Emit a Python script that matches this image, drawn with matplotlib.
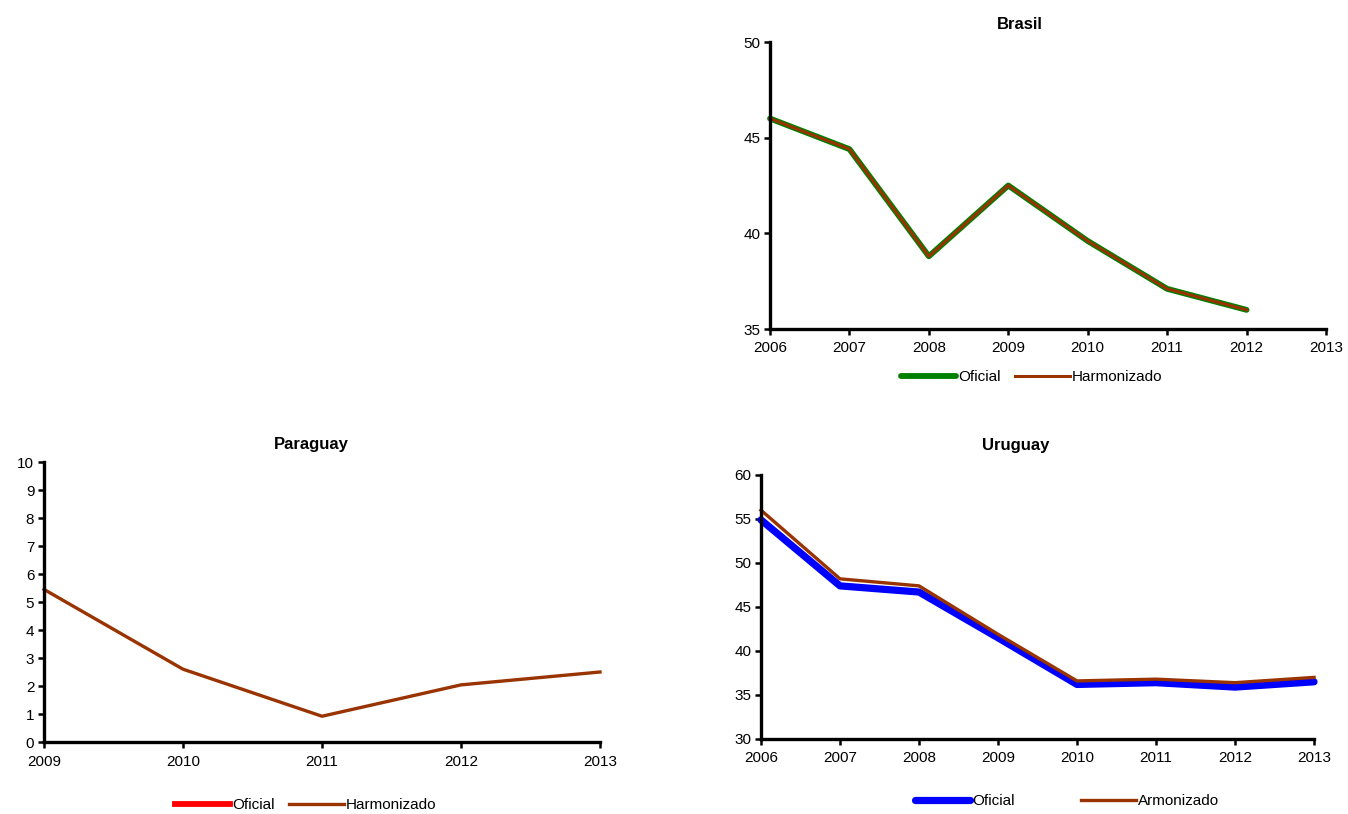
import matplotlib
matplotlib.use("Agg")
import matplotlib.pyplot as plt
import numpy as np

plt.rcParams['font.family'] = ['Liberation Sans', 'DejaVu Sans']
plt.rcParams['font.size'] = 11

# Brasil
brasil_years = [2006, 2007, 2008, 2009, 2010, 2011, 2012]
brasil_oficial = [46.0, 44.4, 38.8, 42.5, 39.6, 37.1, 36.0]
brasil_harmonizado = [46.0, 44.4, 38.8, 42.5, 39.6, 37.1, 36.0]

# Paraguay
paraguay_years = [2009, 2010, 2011, 2012, 2013]
paraguay_oficial = []
paraguay_harmonizado = [5.45, 2.6, 0.92, 2.04, 2.5]

# Uruguay
uruguay_years = [2006, 2007, 2008, 2009, 2010, 2011, 2012, 2013]
uruguay_oficial = [54.9, 47.4, 46.7, 41.5, 36.2, 36.4, 35.9, 36.5]
uruguay_armonizado = [56.0, 48.2, 47.4, 41.9, 36.6, 36.8, 36.4, 37.0]

W, H = 1348, 814
fig = plt.figure(figsize=(W / 100, H / 100), dpi=100)


def make_axes(left, top, right, bottom):
    return fig.add_axes([left / W, 1 - bottom / H, (right - left) / W, (bottom - top) / H])


def style(ax, xlim, ylim, yticks, title, title_x, title_y):
    ax.set_xlim(*xlim)
    ax.set_ylim(*ylim)
    ax.set_xticks(range(xlim[0], xlim[1] + 1))
    ax.set_yticks(yticks)
    for s in ('top', 'right'):
        ax.spines[s].set_visible(False)
    for s in ('left', 'bottom'):
        ax.spines[s].set_linewidth(2.4)
        ax.spines[s].set_color('black')
    ax.tick_params(direction='out', length=4, width=1.8, labelsize=11, pad=3)
    ax.tick_params(axis='x', pad=5)
    ax.set_title(title, fontsize=12, fontweight='bold', x=title_x, y=title_y)


def legend(ax, x, y, spacing):
    return ax.legend(loc='center', bbox_to_anchor=(x / W, 1 - y / H),
                     bbox_transform=fig.transFigure, ncol=2, frameon=False,
                     fontsize=11, handlelength=3.6, handletextpad=0.15,
                     columnspacing=spacing)


# Brasil panel
ax1 = make_axes(770, 42, 1326, 329)
ax1.plot(brasil_years, brasil_oficial, color='#008000', lw=4.2, label='Oficial', clip_on=False,
         solid_joinstyle='round', solid_capstyle='round')
ax1.plot(brasil_years, brasil_harmonizado, color='#993300', lw=2.2, label='Harmonizado', clip_on=False,
         solid_joinstyle='round')
style(ax1, (2006, 2013), (35, 50), [35, 40, 45, 50], 'Brasil', 0.45, 1.018)
legend(ax1, 1032, 377, 0.9)

# Paraguay panel
ax2 = make_axes(44, 462, 600, 742)
ax2.plot(paraguay_years[:len(paraguay_oficial)], paraguay_oficial, color='#FF0000', lw=4.2,
         label='Oficial', clip_on=False)
ax2.plot(paraguay_years, paraguay_harmonizado, color='#993300', lw=2.4, label='Harmonizado',
         clip_on=False)
style(ax2, (2009, 2013), (0, 10), list(range(0, 11)), 'Paraguay', 0.48, 1.015)
legend(ax2, 306, 805, 0.9)

# Uruguay panel
ax3 = make_axes(761, 475, 1314, 739)
ax3.plot(uruguay_years, uruguay_oficial, color='#0000FF', lw=5.2, label='Oficial', clip_on=False,
         solid_joinstyle='round', solid_capstyle='round')
ax3.plot(uruguay_years, uruguay_armonizado, color='#993300', lw=2.4, label='Armonizado',
         clip_on=False)
style(ax3, (2006, 2013), (30, 60), [30, 35, 40, 45, 50, 55, 60], 'Uruguay', 0.46, 1.065)
legend(ax3, 1067, 801, 4.3)

fig.savefig('out.png', dpi=100)
